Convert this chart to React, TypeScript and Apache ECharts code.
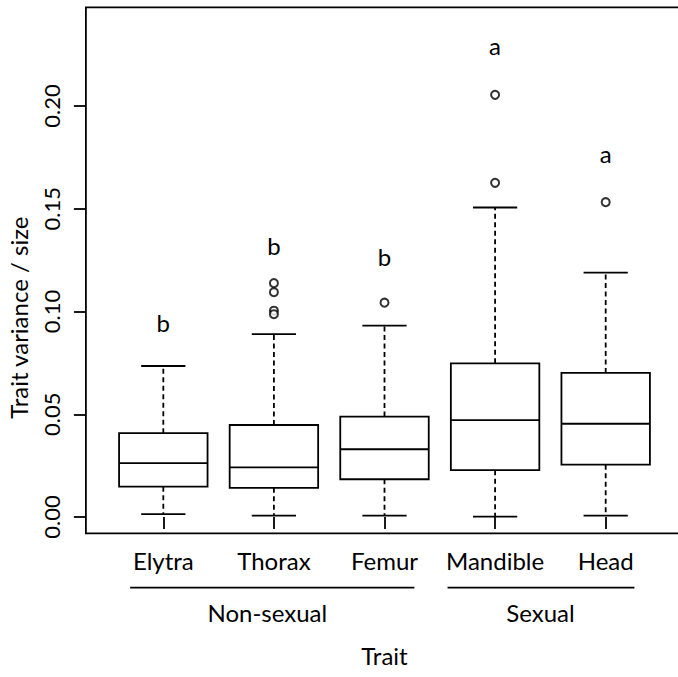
import React, { useEffect, useRef } from "react";
import * as echarts from "echarts";

// Box-plot statistics per trait (trait variance scaled by size)
const traits = ["Elytra", "Thorax", "Femur", "Mandible", "Head"];
const lowerWhisker = [0.0014, 0.0007, 0.0007, 0.0002, 0.0007];
const lowerQuartile = [0.0148, 0.0142, 0.0184, 0.0228, 0.0255];
const medians = [0.0262, 0.0242, 0.033, 0.0472, 0.0454];
const upperQuartile = [0.0408, 0.0448, 0.0489, 0.0748, 0.0701];
const upperWhisker = [0.0735, 0.089, 0.0931, 0.1506, 0.1189];

// Outlying points: trait position (1-based) and value
const outlierTrait = [2, 2, 2, 2, 3, 4, 4, 5];
const outlierValue = [0.1138, 0.1094, 0.1004, 0.0987, 0.1043, 0.2054, 0.1626, 0.1532];

// Significance group letters and where they sit
const groupLetters = ["b", "b", "b", "a", "a"];
const letterValue = [0.0945, 0.132, 0.1266, 0.2295, 0.1769];

// Trait groupings drawn beneath the axis (in trait-position units)
const groupNames = ["Non-sexual", "Sexual"];
const groupStart = [0.7, 3.57];
const groupEnd = [3.27, 5.26];
const groupLabelAt = [1.94, 4.41];

const yTicks = [0, 0.05, 0.1, 0.15, 0.2];
const yMin = -0.0079;
const yMax = 0.248;
const xMin = 0.3;
const xMax = 5.7;

const FONT = "Lato, 'Open Sans', sans-serif";
const FS = 24;
const TICK_FS = 22;
const LW = 1.8;
const BOX_HALF = 0.4;
const CAP_HALF = 0.2;

export default function App() {
  const ref = useRef<HTMLDivElement>(null);

  useEffect(() => {
    document.body.style.margin = "0";
    const chart = echarts.init(ref.current!, null, { renderer: "svg" });

    const boxData = traits.map((_, i) => [
      i + 1,
      lowerWhisker[i],
      lowerQuartile[i],
      medians[i],
      upperQuartile[i],
      upperWhisker[i],
    ]);

    const lineStyle = { stroke: "#000", lineWidth: LW, fill: "none" };
    const dashStyle = { stroke: "#000", lineWidth: LW, lineDash: [5, 3.5], fill: "none" };

    const option: any = {
      animation: false,
      backgroundColor: "#fff",
      grid: {
        left: 85.9,
        top: 7.3,
        right: -5.1,
        bottom: 143.7,
        show: true,
        borderColor: "#000",
        borderWidth: LW,
        backgroundColor: "transparent",
        containLabel: false,
        outerBoundsMode: "none",
      },
      xAxis: {
        type: "value",
        min: xMin,
        max: xMax,
        splitLine: { show: false },
        axisLine: { show: false },
        axisTick: {
          show: true,
          customValues: [1, 2, 3, 4, 5],
          length: 12,
          lineStyle: { color: "#000", width: LW },
        },
        axisLabel: {
          show: true,
          customValues: [1, 2, 3, 4, 5],
          formatter: (v: number) => traits[Math.round(v) - 1] ?? "",
          color: "#000",
          fontFamily: FONT,
          fontSize: FS,
          margin: 15,
        },
        name: "Trait",
        nameLocation: "middle",
        nameGap: 110,
        nameTextStyle: { color: "#000", fontFamily: FONT, fontSize: FS },
      },
      yAxis: {
        type: "value",
        min: yMin,
        max: yMax,
        splitLine: { show: false },
        axisLine: { show: false },
        axisTick: {
          show: true,
          customValues: yTicks,
          length: 12,
          lineStyle: { color: "#000", width: LW },
        },
        axisLabel: {
          show: true,
          customValues: yTicks,
          rotate: 90,
          formatter: (v: number) => v.toFixed(2),
          color: "#000",
          fontFamily: FONT,
          fontSize: TICK_FS,
          margin: 23,
        },
      },
      graphic: [
        {
          type: "text",
          x: 18,
          y: 317.7,
          rotation: Math.PI / 2,
          style: {
            text: "Trait variance / size",
            font: `${FS}px ${FONT}`,
            fill: "#000",
            align: "center",
            verticalAlign: "middle",
          },
        },
      ],
      series: [
        {
          type: "custom",
          name: "boxes",
          data: boxData,
          encode: { x: 0, y: [1, 2, 3, 4, 5] },
          renderItem: (params: any, api: any) => {
            const x = api.value(0);
            const lo = api.value(1);
            const q1 = api.value(2);
            const md = api.value(3);
            const q3 = api.value(4);
            const hi = api.value(5);
            const tl = api.coord([x - BOX_HALF, q3]);
            const br = api.coord([x + BOX_HALF, q1]);
            const mL = api.coord([x - BOX_HALF, md]);
            const mR = api.coord([x + BOX_HALF, md]);
            const c = api.coord([x, md]);
            const yLo = api.coord([x, lo])[1];
            const yHi = api.coord([x, hi])[1];
            const capL = api.coord([x - CAP_HALF, lo])[0];
            const capR = api.coord([x + CAP_HALF, lo])[0];
            return {
              type: "group",
              children: [
                {
                  type: "line",
                  shape: { x1: c[0], y1: tl[1], x2: c[0], y2: yHi },
                  style: dashStyle,
                },
                {
                  type: "line",
                  shape: { x1: c[0], y1: br[1], x2: c[0], y2: yLo },
                  style: dashStyle,
                },
                {
                  type: "line",
                  shape: { x1: capL, y1: yHi, x2: capR, y2: yHi },
                  style: lineStyle,
                },
                {
                  type: "line",
                  shape: { x1: capL, y1: yLo, x2: capR, y2: yLo },
                  style: lineStyle,
                },
                {
                  type: "rect",
                  shape: { x: tl[0], y: tl[1], width: br[0] - tl[0], height: br[1] - tl[1] },
                  style: { fill: "#fff", stroke: "#000", lineWidth: LW },
                },
                {
                  type: "line",
                  shape: { x1: mL[0], y1: mL[1], x2: mR[0], y2: mR[1] },
                  style: lineStyle,
                },
              ],
            };
          },
          z: 2,
        },
        {
          type: "scatter",
          name: "outliers",
          data: outlierTrait.map((t, i) => [t, outlierValue[i]]),
          symbol: "emptyCircle",
          symbolSize: 8,
          itemStyle: { color: "#000", borderColor: "#000", borderWidth: 1.6 },
          z: 3,
        },
        {
          type: "custom",
          name: "letters",
          data: traits.map((_, i) => [i + 1, letterValue[i]]),
          encode: { x: 0, y: 1 },
          renderItem: (params: any, api: any) => {
            const p = api.coord([api.value(0), api.value(1)]);
            return {
              type: "text",
              x: p[0],
              y: p[1],
              style: {
                text: groupLetters[params.dataIndex],
                font: `${FS}px ${FONT}`,
                fill: "#000",
                align: "center",
                verticalAlign: "middle",
              },
            };
          },
          z: 3,
        },
        {
          type: "custom",
          name: "groups",
          clip: false,
          silent: true,
          data: groupNames.map((_, i) => [groupStart[i], groupEnd[i], groupLabelAt[i]]),
          encode: { x: [0, 1, 2] },
          renderItem: (params: any, api: any) => {
            const bottom = api.coord([xMin, yMin])[1];
            const x1 = api.coord([api.value(0), yMin])[0];
            const x2 = api.coord([api.value(1), yMin])[0];
            const xl = api.coord([api.value(2), yMin])[0];
            return {
              type: "group",
              children: [
                {
                  type: "line",
                  shape: { x1, y1: bottom + 54.4, x2, y2: bottom + 54.4 },
                  style: lineStyle,
                },
                {
                  type: "text",
                  x: xl,
                  y: bottom + 79.4,
                  style: {
                    text: groupNames[params.dataIndex],
                    font: `${FS}px ${FONT}`,
                    fill: "#000",
                    align: "center",
                    verticalAlign: "middle",
                  },
                },
              ],
            };
          },
        },
      ],
    };

    chart.setOption(option);
    return () => chart.dispose();
  }, []);

  return <div ref={ref} style={{ width: 678, height: 677 }} />;
}
